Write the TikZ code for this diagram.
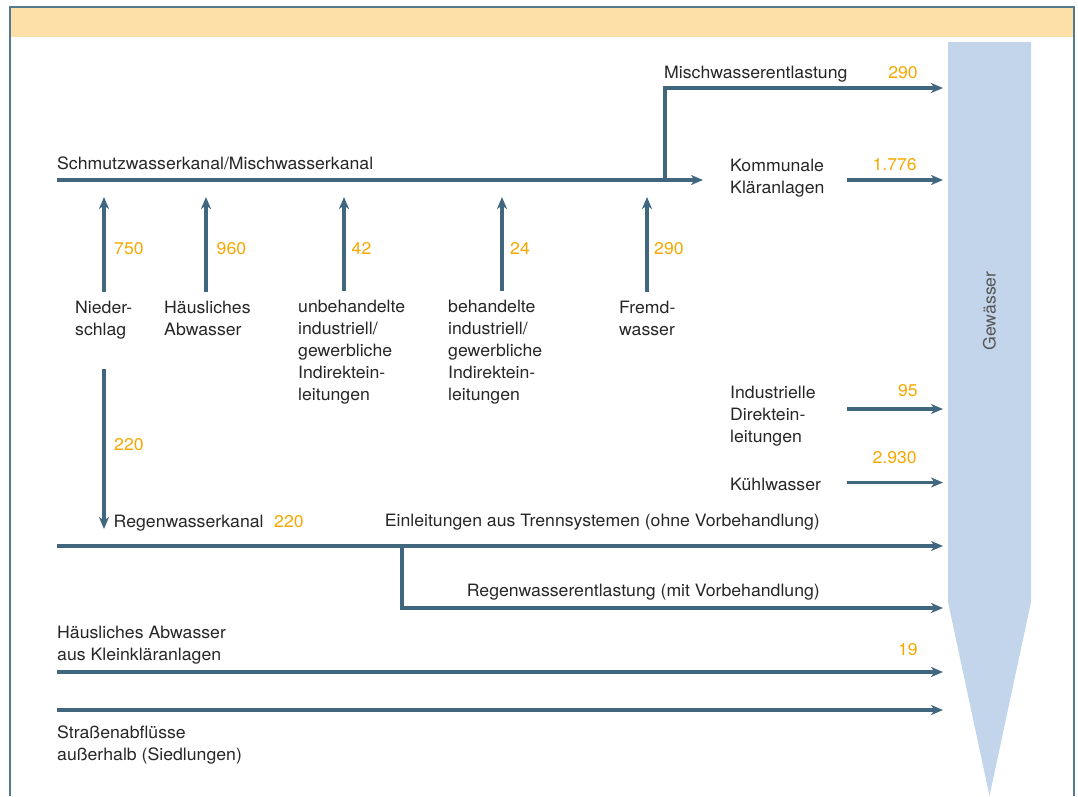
\documentclass[tikz,border=0pt]{standalone}
\usepackage{fontspec}
\setmainfont{TeX Gyre Heros}[FakeStretch=1.04]
\usetikzlibrary{positioning, arrows.meta}

\definecolor{framecol}{HTML}{557A90}
\definecolor{pipecol}{HTML}{41677F}
\definecolor{headcol}{HTML}{FDE0A8}
\definecolor{watercol}{HTML}{C3D5EB}
\definecolor{numcol}{HTML}{F7A800}
\definecolor{txtcol}{HTML}{262626}
\definecolor{gewcol}{HTML}{555555}

\begin{document}
\begin{tikzpicture}[x=1pt, y=-1pt,
  flow/.style={draw=pipecol, line width=3.2pt, -{Stealth[length=12pt, width=10pt, inset=3.5pt]}},
  lbl/.style={text=txtcol, font=\fontsize{17}{22}\selectfont, inner sep=0pt, align=left},
  num/.style={text=numcol, font=\fontsize{17}{22}\selectfont, inner sep=0pt}]
\useasboundingbox (0,0) rectangle (1078,796);

% frame and header
\fill[headcol] (11,8) rectangle (1073,37);
\draw[framecol, line width=2.2pt] (10,796) -- (10,7) -- (1074,7) -- (1074,796);

% receiving water
\fill[watercol] (948,42) -- (1031,42) -- (1031,602) -- (989.5,796) -- (948,602) -- cycle;
\node[lbl, text=gewcol, rotate=90] (gew) at (989.5,311) {Gewässer};

% sewer (combined)
\node[lbl, anchor=base west] (schmutz) at (57,169.5) {Schmutzwasserkanal/Mischwasserkanal};
\coordinate (s0) at (57,180);
\coordinate (s1) at (703,180);
\coordinate (mj) at (665,180);
\coordinate (m1) at (943,88);
\draw[flow] (s0) -- (s1);
\draw[flow] (mj) |- (m1);
\node[lbl, anchor=base west] (misch) at (664,78) {Mischwasserentlastung};
\node[num, anchor=base east] (n290a) at (918,78) {290};

\node[lbl, anchor=north west] (komm) at (730,158.7) {Kommunale\\Kläranlagen};
\node[num, anchor=base east] (n1776) at (917,170) {1.776};
\coordinate (k0) at (847,180);
\coordinate (k1) at (943,180);
\draw[flow] (k0) -- (k1);

% sources
\node[lbl, anchor=north west] (nieder) at (75,300.7) {Nieder-\\schlag};
\node[lbl, anchor=north west] (haus) at (164,300.7) {Häusliches\\Abwasser};
\node[lbl, anchor=north west] (unbeh) at (298,300) {unbehandelte\\industriell/\\gewerbliche\\Indirektein-\\leitungen};
\node[lbl, anchor=north west] (beh) at (448,300) {behandelte\\industriell/\\gewerbliche\\Indirektein-\\leitungen};
\node[lbl, anchor=north west] (fremd) at (619,300.7) {Fremd-\\wasser};

\foreach \src/\x in {nieder/104, haus/206, unbeh/344, beh/502, fremd/647} {
  \coordinate (\src-in) at (\x,197);
  \draw[flow] ([yshift=9pt]\src.north -| \src-in) -- (\src-in);
}
\node[num, anchor=base west] (n750) at (114,254) {750};
\node[num, anchor=base west] (n960) at (216.5,254) {960};
\node[num, anchor=base west] (n42) at (351.5,254) {42};
\node[num, anchor=base west] (n24) at (510,254) {24};
\node[num, anchor=base west] (n290b) at (654,254) {290};

% storm water sewer
\coordinate (r-in) at (104,529);
\draw[flow] ([yshift=-30pt]nieder.south -| r-in) -- (r-in);
\node[num, anchor=base west] (n220a) at (114,450.5) {220};
\node[lbl, anchor=base west] (regen) at (113.5,527.7) {Regenwasserkanal};
\node[num, anchor=base west] (n220b) at (274,527.7) {220};
\node[lbl, anchor=base east] (trenn) at (820,526) {Einleitungen aus Trennsystemen (ohne Vorbehandlung)};
\coordinate (r0) at (57,546);
\coordinate (rj) at (402,546);
\coordinate (r1) at (943,546);
\coordinate (r2) at (943,608);
\draw[flow] (r0) -- (r1);
\draw[flow] (rj) |- (r2);
\node[lbl, anchor=base east] (entl) at (820,596.7) {Regenwasserentlastung (mit Vorbehandlung)};

% direct dischargers
\node[lbl, anchor=north west] (indu) at (730,385.4) {Industrielle\\Direktein-\\leitungen};
\node[num, anchor=base east] (n95) at (918,396) {95};
\coordinate (i0) at (847,409);
\coordinate (i1) at (943,409);
\draw[flow] (i0) -- (i1);
\node[lbl, anchor=base west] (kuehl) at (730,490) {Kühlwasser};
\node[num, anchor=base east] (n2930) at (917,463) {2.930};
\coordinate (c0) at (847,482.5);
\coordinate (c1) at (943,482.5);
\draw[flow] (c0) -- (c1);

% small plants and roads
\node[lbl, anchor=north west] (klein) at (57,626) {Häusliches Abwasser\\aus Kleinkläranlagen};
\node[num, anchor=base east] (n19) at (918,655) {19};
\coordinate (h0) at (57,672);
\coordinate (h1) at (943,672);
\draw[flow] (h0) -- (h1);
\coordinate (a0) at (57,710);
\coordinate (a1) at (943,710);
\draw[flow] (a0) -- (a1);
\node[lbl, anchor=north west] (strasse) at (57,726) {Straßenabflüsse\\außerhalb (Siedlungen)};
\end{tikzpicture}
\end{document}
